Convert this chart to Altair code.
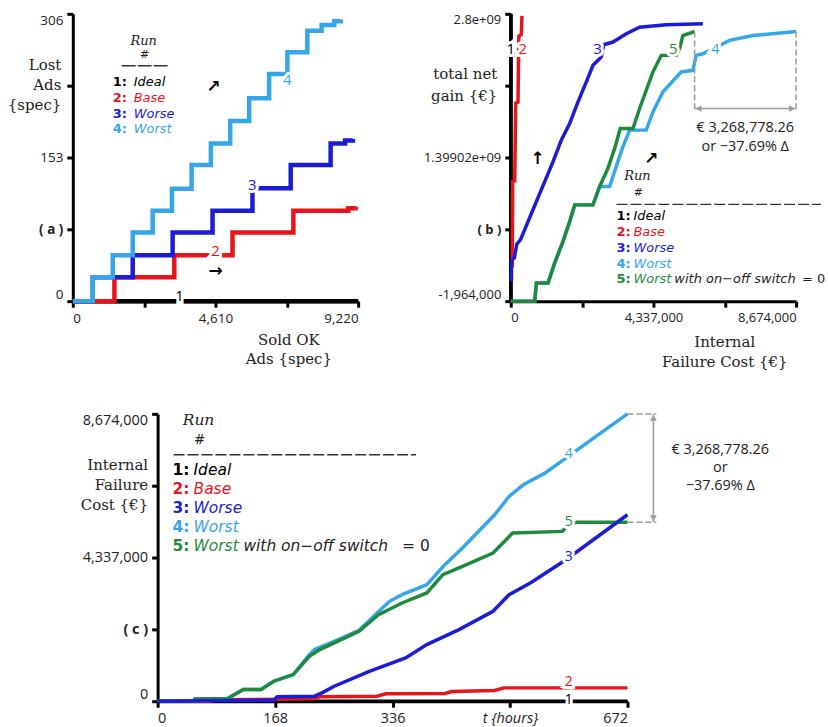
import altair as alt
import pandas as pd

# ---------------- data ----------------
RUNS = ["1", "2", "3", "4", "5"]
RUN_NAMES = ["Ideal", "Base", "Worse", "Worst", "Worst"]
RUN5_EXTRA = ["with on\u2212off switch", "= 0"]
LEGEND_HEAD = ["Run", "#"]
RUN_COLORS = ["#000000", "#e8141c", "#1c1cd8", "#36a6ea", "#1f8a3d"]

# panel (a): Lost Ads vs Sold OK Ads
A_IDEAL_X = [0, 9220]
A_IDEAL_Y = [0, 0]
A_BASE_X = [0, 1344, 3279, 5160, 7127, 8900, 9138]
A_BASE_Y = [0, 25.5, 48.8, 73.2, 96.2, 99, 100.8]
A_WORSE_X = [0, 645, 1935, 3225, 4515, 5805, 7041, 8331, 8800, 9052]
A_WORSE_Y = [0, 25.5, 48.8, 73.2, 96.2, 120.3, 145, 168, 171, 172.6]
A_WORST_X = [0, 645, 1290, 1935, 2580, 3204, 3838, 4461, 5085, 5698, 6343, 6934, 7579, 8040, 8450, 8660]
A_WORST_Y = [0, 25.5, 48.8, 73.2, 96.2, 119.6, 145, 168, 192, 216, 242, 265, 288, 294, 298, 300]
A_LABEL_X = [3450, 4610, 5803, 6932]
A_LABEL_Y = [5, 53, 124, 236]
A_LABEL_T = ["1", "2", "3", "4"]
A_X_TICKS = [0, 2305, 4610, 6915, 9220]
A_X_LABELS = ["0", "", "4,610", "", "9,220"]
A_Y_TICKS = [0, 76.5, 153, 229.5, 306]
A_Y_LABELS = ["0", "( a )", "153", "", "306"]
A_X_TITLE = ["Sold OK", "Ads {spec}"]
A_Y_TITLE = ["Lost", "Ads", "{spec}"]

# panel (b): total net gain vs internal failure cost
B_IDEAL_X = [0, 0]
B_IDEAL_Y = [-1964000, 2800000000]
B_BASE_X = [45000, 60000, 120000, 150000, 220000, 245000, 320000, 340000]
B_BASE_Y = [330e6, 1166e6, 1170e6, 1930e6, 1940e6, 2580e6, 2600e6, 2780e6]
B_WORSE_X = [20000, 25000, 110000, 180000, 300000, 526000, 779000, 1032000, 1285000, 1538000,
             1791000, 2044000, 2297000, 2500000, 2753000, 2824000, 3107000, 3512000, 3917000,
             4726000, 5840000]
B_WORSE_Y = [190e6, 400e6, 420e6, 550e6, 600e6, 775e6, 970e6, 1164e6, 1359e6, 1569e6,
             1731e6, 1942e6, 2136e6, 2298e6, 2379e6, 2499e6, 2525e6, 2606e6, 2670e6,
             2693e6, 2703e6]
B_WORST_X = [0, 729000, 779000, 1134000, 1336000, 1589000, 1791000, 1943000, 2500000, 2702000,
             3006000, 3188000, 3390000, 3613000, 4119000, 4322000, 4625000, 5182000, 5536000,
             5637000, 5840000, 6143000, 6649000, 7358000, 8674000]
B_WORST_Y = [-1964000, -1964000, 176e6, 176e6, 371e6, 581e6, 775e6, 937e6, 937e6, 1116e6,
             1116e6, 1294e6, 1488e6, 1666e6, 1666e6, 1844e6, 2039e6, 2233e6, 2249e6,
             2395e6, 2411e6, 2460e6, 2541e6, 2589e6, 2628e6]
B_SWITCH_X = [0, 729000, 779000, 1134000, 1336000, 1589000, 1791000, 1943000, 2500000, 2702000,
              2955000, 3158000, 3330000, 3714000, 3917000, 4119000, 4322000, 4575000, 5030000,
              5131000, 5233000, 5590000]
B_SWITCH_Y = [-1964000, -1964000, 176e6, 176e6, 371e6, 581e6, 775e6, 937e6, 937e6, 1116e6,
              1294e6, 1488e6, 1682e6, 1682e6, 1877e6, 2055e6, 2233e6, 2395e6, 2395e6,
              2460e6, 2589e6, 2628e6]
B_LABEL_X = [0, 364000, 2639000, 6217000, 4943000]
B_LABEL_Y = [2460e6, 2460e6, 2460e6, 2460e6, 2460e6]
B_LABEL_T = ["1", "2", "3", "4", "5"]
B_X_TICKS = [0, 2168500, 4337000, 6505500, 8674000]
B_X_LABELS = ["0", "", "4,337,000", "", "8,674,000"]
B_Y_TICKS = [-1964000, 698527000, 1399018000, 2099509000, 2800000000]
B_Y_LABELS = ["-1,964,000", "( b )", "1.39902e+09", "", "2.8e+09"]
B_X_TITLE = ["Internal", "Failure Cost {\u20ac}"]
B_Y_TITLE = ["total net", "gain {\u20ac}"]
B_GAP_ENDS = [5590000, 8674000]
B_GAP_LEVEL = 2628e6
B_NOTE = ["\u20ac 3,268,778.26", "or \u221237.69% \u0394"]

# panel (c): internal failure cost over time
C_IDEAL_X = [0, 672]
C_IDEAL_Y = [0, 0]
C_BASE_X = [0, 76.5, 81.6, 222, 232, 313.8, 326.6, 410.8, 421, 482, 495, 672]
C_BASE_Y = [0, 0, 40000, 70000, 131000, 151000, 221000, 231000, 291000, 322000, 402000, 402000]
C_WORSE_X = [0, 166, 171, 224.5, 235, 252.6, 303.6, 354.7, 385, 431, 479.7, 502.6, 533, 584, 672]
C_WORSE_Y = [0, 30000, 131000, 151000, 251000, 452000, 905000, 1307000, 1709000, 2161000,
             2714000, 3216000, 3568000, 4272000, 5629000]
C_WORST_X = [0, 51, 53.6, 99.5, 122.5, 148, 166, 194, 217, 224.5, 252.6, 288, 314, 331.7,
             349.6, 385, 410.8, 436, 456.7, 482, 502.6, 523, 553.7, 584, 620, 672]
C_WORST_Y = [0, 0, 70000, 70000, 352000, 352000, 603000, 804000, 1407000, 1558000, 1809000,
             2141000, 2663000, 3015000, 3216000, 3518000, 4121000, 4623000, 5076000, 5629000,
             6181000, 6533000, 6885000, 7337000, 7890000, 8674000]
C_SWITCH_X = [0, 51, 53.6, 99.5, 122.5, 148, 166, 194, 217, 232, 252.6, 288, 316, 349.6, 385,
              408, 436, 479.7, 507.7, 579, 586.8, 599.6, 672]
C_SWITCH_Y = [0, 0, 70000, 70000, 352000, 352000, 603000, 804000, 1357000, 1558000, 1759000,
              2111000, 2613000, 2965000, 3267000, 3819000, 4071000, 4473000, 5076000, 5126000,
              5327000, 5405222, 5405222]
C_LABEL_X = [588, 588, 588, 588, 588]
C_LABEL_Y = [30000, 570000, 4340000, 7460000, 5400000]
C_LABEL_T = ["1", "2", "3", "4", "5"]
C_X_TICKS = [0, 168, 336, 504, 672]
C_X_LABELS = ["0", "168", "336", "t {hours}", "672"]
C_Y_TICKS = [0, 2168500, 4337000, 6505500, 8674000]
C_Y_LABELS = ["0", "( c )", "4,337,000", "", "8,674,000"]
C_Y_TITLE = ["Internal", "Failure", "Cost {\u20ac}"]
C_GAP_ENDS = [8674000, 5405222]
C_NOTE = ["\u20ac 3,268,778.26", "or", "\u221237.69% \u0394"]

# ---------------- styling ----------------
FONT_TICK = "Open Sans"
FONT_TITLE = "DejaVu Serif"
FONT_LEG = "DejaVu Sans"
GRAY = "#9a9a9a"
TXT = "#222222"
DUMMY = pd.DataFrame({"d": [0]})


def label_expr(ticks, labels):
    eps = abs(ticks[-1] - ticks[0]) * 0.01
    expr = "''"
    for v, l in reversed(list(zip(ticks, labels))):
        expr = f"abs(datum.value - ({v})) < {eps} ? '{l}' : {expr}"
    return expr


def value_test(v, ticks):
    eps = abs(ticks[-1] - ticks[0]) * 0.01
    return f"abs(datum.value - ({v})) < {eps}"


def make_axis(ticks, labels, title, tx, ty, talign, line_h, label_size=13,
              bold_idx=None, italic_idx=None):
    kw = dict(values=ticks, labelExpr=label_expr(ticks, labels), grid=False,
              domainColor="black", domainWidth=3, tickColor="black", tickWidth=3,
              tickSize=6, labelFont=FONT_TICK, labelFontSize=label_size, labelColor=TXT,
              labelFlush=True, labelPadding=4, labelOverlap=False,
              title=title, titleFont=FONT_TITLE, titleFontSize=15,
              titleFontWeight="normal", titleColor=TXT, titleX=tx, titleY=ty,
              titleAlign=talign, titleBaseline="middle", titleAngle=0,
              titleLineHeight=line_h)
    if bold_idx is not None:
        kw["labelFontWeight"] = {"condition": {"test": value_test(ticks[bold_idx], ticks),
                                               "value": "bold"}, "value": "normal"}
    if italic_idx is not None:
        kw["labelFontStyle"] = {"condition": {"test": value_test(ticks[italic_idx], ticks),
                                              "value": "italic"}, "value": "normal"}
    return alt.Axis(**kw)


def line(xs, ys, color, sw, X, Y, interp="linear"):
    df = pd.DataFrame({"x": xs, "y": ys})
    return alt.Chart(df).mark_line(color=color, strokeWidth=sw, interpolate=interp,
                                   strokeJoin="miter").encode(x=X, y=Y)


def run_labels(xs, ys, ts, X, Y, size):
    layers = []
    for xv, yv, t in zip(xs, ys, ts):
        df = pd.DataFrame({"x": [xv], "y": [yv], "t": [t]})
        layers.append(alt.Chart(df).mark_text(font=FONT_TICK, fontSize=size, fill="white",
                                              stroke="white", strokeWidth=6).encode(
            x=X, y=Y, text="t:N"))
        layers.append(alt.Chart(df).mark_text(font=FONT_TICK, fontSize=size,
                                              fill=RUN_COLORS[RUNS.index(t)]).encode(
            x=X, y=Y, text="t:N"))
    return layers


def txt(s, px, py, color=TXT, size=13, style="normal", weight="normal", align="left",
        font=FONT_LEG):
    return alt.Chart(DUMMY).mark_text(text=s, color=color, fontSize=size, fontStyle=style,
                                      fontWeight=weight, align=align, baseline="middle",
                                      font=font).encode(x=alt.value(px), y=alt.value(py))


def legend(x_num, x_name, x_with, x_eq, x_center, y_run, y_hash, dash_x, dash_y, ys, size, dash):
    layers = [txt(LEGEND_HEAD[0], x_center, y_run, size=size, style="italic", align="center",
                  font=FONT_TITLE),
              txt(LEGEND_HEAD[1], x_center + 1, y_hash, size=size - 2, align="center")]
    layers.append(alt.Chart(DUMMY).mark_rule(color="#333333", strokeWidth=1.4,
                                             strokeDash=dash).encode(
        x=alt.value(dash_x[0]), x2=alt.value(dash_x[1]), y=alt.value(dash_y)))
    for i, y in enumerate(ys):
        col = RUN_COLORS[i]
        layers.append(txt(RUNS[i] + ":", x_num, y, color=col, size=size, weight="bold"))
        layers.append(txt(RUN_NAMES[i], x_name, y, color=col, size=size, style="italic"))
        if i == 4:
            layers.append(txt(RUN5_EXTRA[0], x_with, y, size=size, style="italic"))
            layers.append(txt(RUN5_EXTRA[1], x_eq, y, size=size))
    return layers


def arrow(ch, xv, yv, size=17):
    return alt.Chart(DUMMY).mark_text(text=ch, fontSize=size, font="DejaVu Sans",
                                      fontWeight="bold", color="black").encode(
        x=alt.datum(xv), y=alt.datum(yv))


def hidden(px, py):
    return alt.Chart(DUMMY).mark_point(opacity=0, size=1).encode(x=alt.value(px), y=alt.value(py))


NO_VIEW = alt.ViewBackground(stroke="transparent", strokeWidth=0)

# ---------------- panel (a) ----------------
AX = alt.X("x:Q", scale=alt.Scale(domain=[0, 9220], nice=False, zero=False),
           axis=make_axis(A_X_TICKS, A_X_LABELS, A_X_TITLE, 216, 38, "center", 20, 13.5))
AY = alt.Y("y:Q", scale=alt.Scale(domain=[0, 306], nice=False, zero=False),
           axis=make_axis(A_Y_TICKS, A_Y_LABELS, A_Y_TITLE, -12, 51, "right", 20, 13.5,
                          bold_idx=1))
pa_layers = [
    line(A_IDEAL_X, A_IDEAL_Y, RUN_COLORS[0], 4.5, AX, AY, "step-after"),
    line(A_BASE_X, A_BASE_Y, RUN_COLORS[1], 4.5, AX, AY, "step-after"),
    line(A_WORSE_X, A_WORSE_Y, RUN_COLORS[2], 4.5, AX, AY, "step-after"),
    line(A_WORST_X, A_WORST_Y, RUN_COLORS[3], 4.5, AX, AY, "step-after"),
]
pa_layers += run_labels(A_LABEL_X, A_LABEL_Y, A_LABEL_T, AX, AY, 15)
pa_layers += legend(40, 61, 0, 0, 71, 27, 41, (49, 95), 52, [68, 84, 100, 115], 13,
                    [14, 2])
pa_layers += [arrow("\u2197", 4546, 228), arrow("\u2192", 4610, 32)]
pa_layers += [hidden(-72, -12), hidden(-72, 380)]
panel_a = alt.layer(*pa_layers).properties(width=286, height=288, view=NO_VIEW)

# ---------------- panel (b) ----------------
BX = alt.X("x:Q", scale=alt.Scale(domain=[0, 8674000], nice=False, zero=False),
           axis=make_axis(B_X_TICKS, B_X_LABELS, B_X_TITLE, 214, 40, "center", 21, 13))
BY = alt.Y("y:Q", scale=alt.Scale(domain=[-1964000, 2800000000], nice=False, zero=False),
           axis=make_axis(B_Y_TICKS, B_Y_LABELS, B_Y_TITLE, -14, 60, "right", 22, 13,
                          bold_idx=1))
pb_layers = [
    line(B_IDEAL_X, B_IDEAL_Y, RUN_COLORS[0], 3.5, BX, BY),
    line(B_BASE_X, B_BASE_Y, RUN_COLORS[1], 3.5, BX, BY),
    line(B_WORSE_X, B_WORSE_Y, RUN_COLORS[2], 3.5, BX, BY),
    line(B_WORST_X, B_WORST_Y, RUN_COLORS[3], 3.5, BX, BY),
    line(B_SWITCH_X, B_SWITCH_Y, RUN_COLORS[4], 3.5, BX, BY),
]
pb_layers += run_labels(B_LABEL_X, B_LABEL_Y, B_LABEL_T, BX, BY, 15)
for gx in B_GAP_ENDS:
    pb_layers.append(alt.Chart(DUMMY).mark_rule(color=GRAY, strokeWidth=1.5,
                                                strokeDash=[6, 3]).encode(
        x=alt.datum(gx), y=alt.datum(B_GAP_LEVEL), y2=alt.value(97)))
pb_layers.append(alt.Chart(DUMMY).mark_rule(color=GRAY, strokeWidth=1.5).encode(
    x=alt.datum(B_GAP_ENDS[0]), x2=alt.datum(B_GAP_ENDS[1]), y=alt.value(95)))
pb_layers.append(alt.Chart(DUMMY).mark_point(shape="triangle-left", filled=True, size=45,
                                             color=GRAY, opacity=1, xOffset=4).encode(
    x=alt.datum(B_GAP_ENDS[0]), y=alt.value(95)))
pb_layers.append(alt.Chart(DUMMY).mark_point(shape="triangle-right", filled=True, size=45,
                                             color=GRAY, opacity=1, xOffset=-4).encode(
    x=alt.datum(B_GAP_ENDS[1]), y=alt.value(95)))
pb_layers.append(txt(B_NOTE[0], 235, 114, size=14.5, align="center", font=FONT_TICK))
pb_layers.append(txt(B_NOTE[1], 235, 133, size=14.5, align="center", font=FONT_TICK))
pb_layers += legend(106, 123, 164, 292, 127, 163, 180, (106, 311), 191,
                    [203, 219, 235, 251, 266], 13, [11, 3])
pb_layers += [arrow("\u2191", 819000, 1389e6), arrow("\u2197", 4276000, 1389e6)]
panel_b = alt.layer(*pb_layers).properties(width=286, height=288, view=NO_VIEW)

# ---------------- panel (c) ----------------
CX = alt.X("x:Q", scale=alt.Scale(domain=[0, 672], nice=False, zero=False),
           axis=make_axis(C_X_TICKS, C_X_LABELS, "", 0, 40, "center", 20, 14.5,
                          italic_idx=3))
CY = alt.Y("y:Q", scale=alt.Scale(domain=[0, 8674000], nice=False, zero=False),
           axis=make_axis(C_Y_TICKS, C_Y_LABELS, C_Y_TITLE, -10, 51, "right", 20, 14.5,
                          bold_idx=1))
pc_layers = [
    line(C_IDEAL_X, C_IDEAL_Y, RUN_COLORS[0], 3.5, CX, CY),
    line(C_BASE_X, C_BASE_Y, RUN_COLORS[1], 3.5, CX, CY),
    line(C_WORST_X, C_WORST_Y, RUN_COLORS[3], 3.5, CX, CY),
    line(C_SWITCH_X, C_SWITCH_Y, RUN_COLORS[4], 3.5, CX, CY),
    line(C_WORSE_X, C_WORSE_Y, RUN_COLORS[2], 3.5, CX, CY),
]
pc_layers += run_labels(C_LABEL_X, C_LABEL_Y, C_LABEL_T, CX, CY, 14)
for gy in C_GAP_ENDS:
    pc_layers.append(alt.Chart(DUMMY).mark_rule(color=GRAY, strokeWidth=1.5,
                                                strokeDash=[6, 3]).encode(
        x=alt.datum(672), x2=alt.value(500), y=alt.datum(gy)))
pc_layers.append(alt.Chart(DUMMY).mark_rule(color=GRAY, strokeWidth=1.5).encode(
    x=alt.value(497), y=alt.datum(C_GAP_ENDS[0]), y2=alt.datum(C_GAP_ENDS[1])))
pc_layers.append(alt.Chart(DUMMY).mark_point(shape="triangle-up", filled=True, size=45,
                                             color=GRAY, opacity=1, yOffset=4).encode(
    x=alt.value(497), y=alt.datum(C_GAP_ENDS[0])))
pc_layers.append(alt.Chart(DUMMY).mark_point(shape="triangle-down", filled=True, size=45,
                                             color=GRAY, opacity=1, yOffset=-4).encode(
    x=alt.value(497), y=alt.datum(C_GAP_ENDS[1])))
for i, s in enumerate(C_NOTE):
    pc_layers.append(txt(s, 564, 36 + 18 * i, size=14.5, align="center", font=FONT_TICK))
pc_layers += legend(15, 36, 86, 245, 41, 6, 26, (16, 259), 41,
                    [56, 75, 94, 113, 132], 15.5, [11, 3])
pc_layers += [hidden(-157, -19), hidden(671, 316)]
panel_c = alt.layer(*pc_layers).properties(width=471, height=288, view=NO_VIEW)

spacer = alt.layer(alt.Chart(DUMMY).mark_point(opacity=0, size=1).encode(
    x=alt.value(0), y=alt.value(0))).properties(width=85, height=288, view=NO_VIEW)

row1 = alt.hconcat(panel_a, panel_b, spacing=153, bounds="flush")
row2 = alt.hconcat(spacer, panel_c, spacing=0, bounds="flush")
chart = alt.vconcat(row1, row2, spacing=0, bounds="full", padding=0,
                    background="white").configure_view(strokeWidth=0, stroke="transparent")

chart.save("out.html", embed_options={"renderer": "svg", "actions": False})
